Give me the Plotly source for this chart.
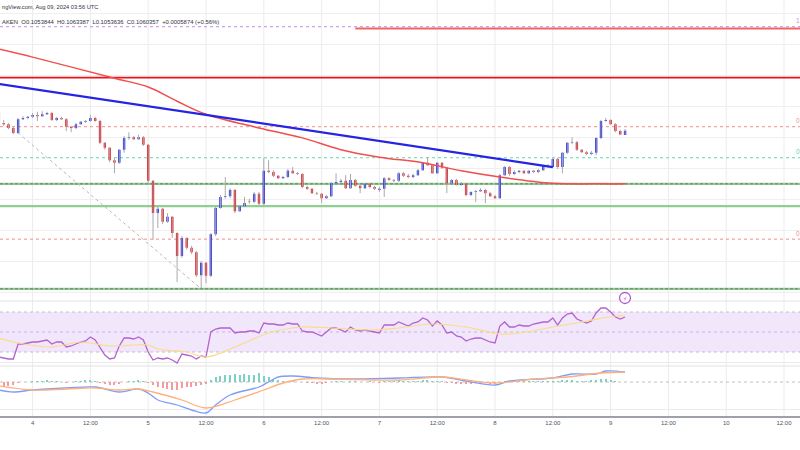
import pandas as pd
import plotly.graph_objects as go

# ---------------- DATA ----------------
first_candle = "2024-08-03 17:00"   # hourly candles, DOGEUSD (Kraken)

open_ = [0.1092, 0.1073, 0.1071, 0.1065, 0.1057, 0.1079, 0.1081, 0.1083, 0.1086, 0.1084,
         0.1087, 0.1089, 0.1078, 0.1081, 0.1079, 0.1067, 0.1065, 0.1071, 0.1075, 0.1076,
         0.1081, 0.1076, 0.1041, 0.1033, 0.1013, 0.1009, 0.1030, 0.1049, 0.1050, 0.1047,
         0.1050, 0.1038, 0.0980, 0.0928, 0.0935, 0.0914, 0.0922, 0.0896, 0.0859, 0.0888,
         0.0872, 0.0865, 0.0828, 0.0848, 0.0827, 0.0894, 0.0936, 0.0954, 0.0955, 0.0965,
         0.0931, 0.0939, 0.0947, 0.0946, 0.0959, 0.0943, 0.0996, 0.0994, 0.0988, 0.0984,
         0.0986, 0.0996, 0.0992, 0.0991, 0.0970, 0.0967, 0.0960, 0.0959, 0.0952, 0.0955,
         0.0976, 0.0978, 0.0980, 0.0968, 0.0981, 0.0972, 0.0968, 0.0975, 0.0970, 0.0965,
         0.0967, 0.0984, 0.0981, 0.0980, 0.0992, 0.0988, 0.0986, 0.0989, 0.0997, 0.1009,
         0.1005, 0.0992, 0.1009, 0.1001, 0.0976, 0.0981, 0.0973, 0.0975, 0.0957, 0.0962,
         0.0963, 0.0965, 0.0960, 0.0955, 0.0952, 0.0989, 0.1002, 0.0991, 0.0994, 0.0996,
         0.0992, 0.0996, 0.0994, 0.0997, 0.1004, 0.1002, 0.1015, 0.1002, 0.1025, 0.1041,
         0.1042, 0.1030, 0.1026, 0.1023, 0.1025, 0.1049, 0.1076, 0.1078, 0.1071, 0.1060,
         0.1053844]
high = [0.1097, 0.1078, 0.1073, 0.1067, 0.1081, 0.1084, 0.1084, 0.1089, 0.1091, 0.1092,
        0.1091, 0.1091, 0.1083, 0.1083, 0.1081, 0.1068, 0.1073, 0.1076, 0.1078, 0.1086,
        0.1083, 0.1078, 0.1042, 0.1034, 0.1017, 0.1031, 0.1052, 0.1058, 0.1052, 0.1054,
        0.1052, 0.1039, 0.0981, 0.0938, 0.0936, 0.0928, 0.0923, 0.0897, 0.0891, 0.0889,
        0.0875, 0.0867, 0.0851, 0.0849, 0.0896, 0.0938, 0.0957, 0.0986, 0.0968, 0.0967,
        0.0941, 0.0954, 0.0951, 0.0962, 0.0962, 0.1017, 0.1013, 0.0997, 0.0989, 0.0988,
        0.0999, 0.1002, 0.0994, 0.0992, 0.0972, 0.0968, 0.0962, 0.0960, 0.0957, 0.0978,
        0.0992, 0.0983, 0.0989, 0.0991, 0.0983, 0.0973, 0.0976, 0.0976, 0.0972, 0.0970,
        0.0986, 0.0986, 0.0983, 0.0994, 0.0994, 0.0991, 0.0991, 0.0999, 0.1010, 0.1018,
        0.1007, 0.1010, 0.1010, 0.1002, 0.0983, 0.0983, 0.0978, 0.0976, 0.0963, 0.0965,
        0.0968, 0.0967, 0.0962, 0.0957, 0.0991, 0.1004, 0.1004, 0.0997, 0.0997, 0.0997,
        0.0997, 0.0997, 0.0999, 0.1005, 0.1007, 0.1017, 0.1017, 0.1026, 0.1042, 0.1050,
        0.1044, 0.1031, 0.1028, 0.1028, 0.1050, 0.1078, 0.1081, 0.1079, 0.1073, 0.1062,
        0.1063387]
low = [0.1070, 0.1068, 0.1063, 0.1055, 0.1055, 0.1078, 0.1079, 0.1081, 0.1076, 0.1083,
       0.1086, 0.1076, 0.1076, 0.1078, 0.1060, 0.1058, 0.1063, 0.1070, 0.1073, 0.1075,
       0.1075, 0.1039, 0.1030, 0.1010, 0.0992, 0.1007, 0.1025, 0.1046, 0.1046, 0.1046,
       0.1036, 0.0976, 0.0885, 0.0904, 0.0910, 0.0912, 0.0888, 0.0817, 0.0856, 0.0869,
       0.0862, 0.0825, 0.0807, 0.0815, 0.0825, 0.0891, 0.0935, 0.0951, 0.0952, 0.0928,
       0.0930, 0.0938, 0.0943, 0.0944, 0.0941, 0.0941, 0.0992, 0.0986, 0.0983, 0.0983,
       0.0984, 0.0991, 0.0989, 0.0968, 0.0965, 0.0959, 0.0957, 0.0944, 0.0951, 0.0954,
       0.0975, 0.0976, 0.0967, 0.0967, 0.0970, 0.0960, 0.0967, 0.0968, 0.0965, 0.0962,
       0.0954, 0.0980, 0.0978, 0.0978, 0.0986, 0.0984, 0.0984, 0.0988, 0.0996, 0.1004,
       0.0991, 0.0991, 0.0999, 0.0960, 0.0975, 0.0972, 0.0972, 0.0955, 0.0955, 0.0946,
       0.0962, 0.0944, 0.0954, 0.0951, 0.0951, 0.0988, 0.0988, 0.0989, 0.0992, 0.0991,
       0.0991, 0.0992, 0.0992, 0.0996, 0.1001, 0.1001, 0.0999, 0.0992, 0.1023, 0.1039,
       0.1028, 0.1025, 0.1021, 0.1021, 0.1021, 0.1047, 0.1075, 0.1070, 0.1058, 0.1054,
       0.1053636]
close = [0.1073, 0.1071, 0.1065, 0.1057, 0.1079, 0.1081, 0.1083, 0.1086, 0.1084, 0.1087,
         0.1089, 0.1078, 0.1081, 0.1079, 0.1067, 0.1065, 0.1071, 0.1075, 0.1076, 0.1081,
         0.1076, 0.1041, 0.1033, 0.1013, 0.1009, 0.1030, 0.1049, 0.1050, 0.1047, 0.1050,
         0.1038, 0.0980, 0.0928, 0.0935, 0.0914, 0.0922, 0.0896, 0.0859, 0.0888, 0.0872,
         0.0865, 0.0828, 0.0848, 0.0827, 0.0894, 0.0936, 0.0954, 0.0955, 0.0965, 0.0931,
         0.0939, 0.0944, 0.0946, 0.0959, 0.0943, 0.0996, 0.0994, 0.0988, 0.0984, 0.0986,
         0.0996, 0.0992, 0.0991, 0.0970, 0.0967, 0.0960, 0.0959, 0.0952, 0.0955, 0.0976,
         0.0978, 0.0980, 0.0968, 0.0981, 0.0972, 0.0968, 0.0975, 0.0970, 0.0967, 0.0967,
         0.0984, 0.0981, 0.0980, 0.0992, 0.0988, 0.0986, 0.0989, 0.0997, 0.1009, 0.1005,
         0.0992, 0.1009, 0.1001, 0.0976, 0.0981, 0.0973, 0.0975, 0.0957, 0.0962, 0.0963,
         0.0965, 0.0960, 0.0955, 0.0952, 0.0989, 0.1002, 0.0991, 0.0994, 0.0996, 0.0992,
         0.0996, 0.0994, 0.0997, 0.1004, 0.1002, 0.1015, 0.1002, 0.1025, 0.1041, 0.1042,
         0.1030, 0.1026, 0.1023, 0.1025, 0.1049, 0.1076, 0.1078, 0.1071, 0.1060, 0.10545,
         0.1060357]

# 100-period moving average (red curve)
ma_times = ["2024-08-03 17:00", "2024-08-04 00:00", "2024-08-04 17:00", "2024-08-05 00:00",
            "2024-08-05 06:00", "2024-08-05 12:00", "2024-08-05 23:00", "2024-08-06 08:00",
            "2024-08-06 16:00", "2024-08-07 00:00", "2024-08-07 09:00", "2024-08-07 17:00",
            "2024-08-08 01:00", "2024-08-08 12:00", "2024-08-08 22:00", "2024-08-09 03:00"]
ma_vals = [0.1192, 0.1179, 0.1145, 0.1131, 0.1108, 0.1087, 0.1065, 0.1049,
           0.1030, 0.1018, 0.1009, 0.0996, 0.0986, 0.0976, 0.0975, 0.0975]

# drawn trend lines
trend_times = ["2024-08-03 17:00", "2024-08-08 12:00"]
trend_vals = [0.1136, 0.1002]
diag_times = ["2024-08-03 21:00", "2024-08-05 11:00"]
diag_vals = [0.1057, 0.0806]
top_res_start = "2024-08-06 19:00"
top_res_val = 0.1225

# horizontal levels (labels only partly visible at the right edge)
fib_levels = [0.1228, 0.1067, 0.1017, 0.0886]
fib_labels = ["1", "0", "0", "0"]
fib_colors = ["#c58be6", "#f28b8b", "#5fd6b6", "#f28b8b"]
red_res = 0.1146
green_lvls = [0.0975, 0.0939, 0.0806]
green_dashed = [True, False, True]

# RSI(14) hourly
rsi = [25, 24, 23, 23, 38, 38, 39, 40, 40, 41,
       42, 38, 40, 40, 35, 36, 38, 40, 41, 45,
       42, 34, 27, 23, 24, 36, 44, 44, 43, 45,
       42, 30, 22, 24, 23, 24, 22, 19, 28, 27,
       26, 23, 26, 25, 50, 53, 54, 54, 54, 49,
       50, 50, 51, 51, 49, 59, 58, 58, 57, 57,
       59, 58, 58, 51, 50, 50, 48, 46, 50, 54,
       54, 52, 50, 55, 52, 51, 52, 51, 50, 49,
       57, 57, 57, 60, 58, 56, 59, 60, 64, 62,
       56, 61, 57, 49, 50, 46, 45, 41, 43, 44,
       44, 42, 40, 39, 56, 60, 55, 55, 57, 56,
       56, 58, 59, 60, 60, 64, 57, 64, 68, 69,
       63, 61, 59, 61, 69, 74, 74, 70, 65, 63,
       65]
rsi_ma_times = ["2024-08-03 17:00", "2024-08-03 21:00", "2024-08-04 04:00", "2024-08-04 10:00",
                "2024-08-04 16:00", "2024-08-04 21:00", "2024-08-05 00:00", "2024-08-05 02:00",
                "2024-08-05 08:00", "2024-08-05 12:00", "2024-08-05 18:00", "2024-08-06 01:00",
                "2024-08-06 08:00", "2024-08-06 14:00", "2024-08-06 22:00", "2024-08-07 04:00",
                "2024-08-07 11:00", "2024-08-07 18:00", "2024-08-08 01:00", "2024-08-08 05:00",
                "2024-08-08 12:00", "2024-08-08 18:00", "2024-08-09 01:00", "2024-08-09 03:00"]
rsi_ma = [44, 39, 35, 40, 36, 37, 37, 33, 30, 25, 35, 49,
          55, 54, 52, 54, 58, 55, 48, 49, 55, 60, 66, 66]

# MACD
macd_times = ["2024-08-03 17:00", "2024-08-03 20:00", "2024-08-04 00:00", "2024-08-04 07:00",
              "2024-08-04 13:00", "2024-08-04 18:00", "2024-08-04 22:00", "2024-08-05 00:00",
              "2024-08-05 02:00", "2024-08-05 06:00", "2024-08-05 09:00", "2024-08-05 12:00",
              "2024-08-05 14:00", "2024-08-05 17:00", "2024-08-05 23:00", "2024-08-06 01:00",
              "2024-08-06 03:00", "2024-08-06 06:00", "2024-08-06 11:00", "2024-08-06 18:00",
              "2024-08-07 04:00", "2024-08-07 13:00", "2024-08-07 18:00", "2024-08-08 00:00",
              "2024-08-08 03:00", "2024-08-08 12:00", "2024-08-08 16:00", "2024-08-08 21:00",
              "2024-08-08 23:00", "2024-08-09 03:00"]
macd = [-0.0008, -0.0010, -0.0008, -0.0006, -0.0005, -0.0010, -0.0007, -0.0011,
        -0.0018, -0.0023, -0.0028, -0.0031, -0.0023, -0.0013, -0.0005, 0.0000,
        0.0005, 0.0006, 0.0004, 0.0003, 0.0004, 0.0005, 0.0001, -0.0003,
        0.0001, 0.0004, 0.0008, 0.0008, 0.0011, 0.0010]
signal_times = ["2024-08-03 17:00", "2024-08-04 00:00", "2024-08-04 07:00", "2024-08-04 13:00",
                "2024-08-04 18:00", "2024-08-04 22:00", "2024-08-05 01:00", "2024-08-05 07:00",
                "2024-08-05 12:00", "2024-08-05 18:00", "2024-08-06 00:00", "2024-08-06 04:00",
                "2024-08-06 08:00", "2024-08-06 14:00", "2024-08-07 04:00", "2024-08-07 13:00",
                "2024-08-07 18:00", "2024-08-08 00:00", "2024-08-08 08:00", "2024-08-08 15:00",
                "2024-08-08 22:00", "2024-08-09 03:00"]
signal = [-0.0004, -0.0008, -0.0007, -0.0006, -0.0008, -0.0007, -0.0010, -0.0018,
          -0.0026, -0.0018, -0.0008, -0.0001, 0.0003, 0.0003, 0.0002, 0.0005,
          0.0002, -0.0001, 0.0003, 0.0005, 0.0009, 0.0010]
hist = [-0.0004, -0.0005, -0.0004, -0.0003, -0.0001, 0.0, 0.0, 0.0001, 0.0001, 0.0001,
        0.0002, 0.0001, 0.0001, 0.0, -0.0001, 0.0, 0.0001, 0.0001, 0.0002, 0.0002,
        0.0001, -0.0001, -0.0002, -0.0003, -0.0003, -0.0002, 0.0, 0.0001, 0.0001, 0.0002,
        0.0001, -0.0001, -0.0003, -0.0005, -0.0006, -0.0007, -0.0008, -0.0008, -0.0006, -0.0005,
        -0.0005, -0.0004, -0.0003, -0.0002, 0.0002, 0.0005, 0.0006, 0.0007, 0.0007, 0.0008,
        0.0007, 0.0008, 0.0007, 0.0007, 0.0009, 0.0006, 0.0005, 0.0003, 0.0002, 0.0001,
        0.0001, 0.0001, 0.0, 0.0, -0.0001, -0.0001, -0.0002, -0.0002, -0.0001, 0.0,
        0.0001, 0.0001, 0.0, 0.0001, 0.0001, 0.0, 0.0, 0.0001, 0.0, -0.0001,
        0.0001, 0.0001, 0.0001, 0.0002, 0.0001, 0.0001, 0.0001, 0.0001, 0.0002, 0.0002,
        0.0001, 0.0001, 0.0001, -0.0001, -0.0001, -0.0002, -0.0002, -0.0002, -0.0002, -0.0001,
        -0.0001, -0.0001, -0.0002, -0.0002, 0.0, 0.0001, 0.0001, 0.0001, 0.0001, 0.0001,
        0.0001, 0.0001, 0.0001, 0.0001, 0.0001, 0.0001, 0.0001, 0.0002, 0.0002, 0.0002,
        0.0001, 0.0001, 0.0001, 0.0002, 0.0002, 0.0003, 0.0003, 0.0002, 0.0001, 0.0,
        0.0]

# time axis
tick_vals = ["2024-08-04 00:00", "2024-08-04 12:00", "2024-08-05 00:00", "2024-08-05 12:00",
             "2024-08-06 00:00", "2024-08-06 12:00", "2024-08-07 00:00", "2024-08-07 12:00",
             "2024-08-08 00:00", "2024-08-08 12:00", "2024-08-09 00:00", "2024-08-09 12:00",
             "2024-08-10 00:00", "2024-08-10 12:00"]
tick_text = ["4", "12:00", "5", "12:00", "6", "12:00", "7", "12:00",
             "8", "12:00", "9", "12:00", "10", "12:00"]
x_range = ["2024-08-03 17:14", "2024-08-10 15:19"]

header1 = "ngView.com, Aug 09, 2024 03:56 UTC"
header2 = "AKEN  O0.1053844  H0.1063387  L0.1053636  C0.1060357  +0.0005874 (+0.56%)"

# ---------------- FIGURE ----------------
times = pd.date_range(first_candle, periods=len(open_), freq="h")
PH = 416.0  # plot area height in px (450 - bottom margin)


def py(pix):
    """pixel row -> paper y"""
    return (PH - pix) / PH


FONT = "Liberation Sans, Arial, sans-serif"
BLUE = "#1f22ea"
RED = "#e8141b"

fig = go.Figure()

# wicks (grey)
wx, wy = [], []
for t, lo, hi in zip(times, low, high):
    wx += [t, t, None]
    wy += [lo, hi, None]
fig.add_trace(go.Scatter(x=wx, y=wy, mode="lines", line=dict(color="#a9a9a9", width=1),
                         hoverinfo="skip", showlegend=False, yaxis="y"))

fig.add_trace(go.Candlestick(
    x=times, open=open_, high=high, low=low, close=close, yaxis="y",
    increasing=dict(fillcolor=BLUE, line=dict(color=BLUE, width=0)),
    decreasing=dict(fillcolor=RED, line=dict(color=RED, width=0)),
    showlegend=False))

fig.add_trace(go.Scatter(x=ma_times, y=ma_vals, mode="lines", yaxis="y",
                         line=dict(color="#f24e4e", width=1.5, shape="spline"), showlegend=False))
fig.add_trace(go.Scatter(x=trend_times, y=trend_vals, mode="lines", yaxis="y",
                         line=dict(color="#2424e2", width=2.2), showlegend=False))
fig.add_trace(go.Scatter(x=diag_times, y=diag_vals, mode="lines", yaxis="y",
                         line=dict(color="#b8b8b8", width=1, dash="3px,3px"), showlegend=False))

# RSI
fig.add_trace(go.Scatter(x=times, y=rsi, mode="lines", yaxis="y2",
                         line=dict(color="#b262d0", width=1.3), showlegend=False))
fig.add_trace(go.Scatter(x=rsi_ma_times, y=rsi_ma, mode="lines", yaxis="y2",
                         line=dict(color="#f8dc8a", width=1.2, shape="spline"), showlegend=False))

# MACD
hist_colors = ["#7dd0c6" if v >= 0 else "#f59aa0" for v in hist]
fig.add_trace(go.Bar(x=times, y=hist, marker=dict(color=hist_colors, line=dict(width=0)),
                     width=0.25 * 3600000, yaxis="y3", showlegend=False))
fig.add_trace(go.Scatter(x=macd_times, y=macd, mode="lines", yaxis="y3",
                         line=dict(color="#7f9cfa", width=1.3, shape="spline"), showlegend=False))
fig.add_trace(go.Scatter(x=signal_times, y=signal, mode="lines", yaxis="y3",
                         line=dict(color="#ffb07c", width=1.3, shape="spline"), showlegend=False))

shapes = []
# vertical grid
for tv in tick_vals:
    shapes.append(dict(type="line", xref="x", yref="paper", x0=tv, x1=tv, y0=0, y1=1,
                       line=dict(color="#ececec", width=1), layer="below"))
# pane separators
for pix in (301, 366):
    shapes.append(dict(type="line", xref="paper", yref="paper", x0=0, x1=1,
                       y0=py(pix), y1=py(pix), line=dict(color="#e2e2e2", width=1), layer="below"))
# levels in main pane
for lv, col in zip(fib_levels, fib_colors):
    shapes.append(dict(type="line", xref="paper", yref="y", x0=0, x1=1, y0=lv, y1=lv,
                       line=dict(color=col, width=1, dash="3px,3px"), layer="below"))
shapes.append(dict(type="line", xref="paper", yref="y", x0=0, x1=1, y0=red_res, y1=red_res,
                   line=dict(color="#e8141b", width=1.6), layer="below"))
shapes.append(dict(type="line", xref="x", yref="y", x0=top_res_start, x1=x_range[1],
                   y0=top_res_val, y1=top_res_val, line=dict(color="#f06464", width=2), layer="below"))
for lv, dsh in zip(green_lvls, green_dashed):
    shapes.append(dict(type="line", xref="paper", yref="y", x0=0, x1=1, y0=lv, y1=lv,
                       line=dict(color="#8fcf8f", width=2.2), layer="below"))
    if dsh:
        shapes.append(dict(type="line", xref="paper", yref="y", x0=0, x1=1, y0=lv, y1=lv,
                           line=dict(color="#6f7a6f", width=1, dash="3px,2px"), layer="below"))
# RSI band and levels
shapes.append(dict(type="rect", xref="paper", yref="y2", x0=0, x1=1, y0=30, y1=70,
                   fillcolor="#f2e6fc", line=dict(width=0), layer="below"))
for lv in (70, 50, 30):
    shapes.append(dict(type="line", xref="paper", yref="y2", x0=0, x1=1, y0=lv, y1=lv,
                       line=dict(color="#b9b0c4", width=0.8, dash="3px,3px"), layer="below"))
# MACD zero line
shapes.append(dict(type="line", xref="paper", yref="y3", x0=0, x1=1, y0=0, y1=0,
                   line=dict(color="#b0b0b0", width=0.8, dash="3px,3px"), layer="below"))
# event icon
shapes.append(dict(type="circle", xref="paper", yref="paper",
                   x0=(625 - 5.5) / 800, x1=(625 + 5.5) / 800, y0=py(298 + 5.5), y1=py(298 - 5.5),
                   line=dict(color="#b35ad8", width=1.3), fillcolor="white", layer="above"))

annotations = [
    dict(xref="paper", yref="paper", x=0, y=py(7), xanchor="left", yanchor="middle",
         text=header1, showarrow=False, font=dict(family=FONT, size=5.7, color="#2f3241")),
    dict(xref="paper", yref="paper", x=0, y=py(22), xanchor="left", yanchor="middle",
         text=header2, showarrow=False, font=dict(family=FONT, size=5.9, color="#2f3241")),
    dict(xref="paper", yref="paper", x=625 / 800, y=py(298), xanchor="center", yanchor="middle",
         text="⚡", showarrow=False, font=dict(family="DejaVu Sans", size=6, color="#b35ad8")),
]
for lv, lab, col in zip(fib_levels, fib_labels, fib_colors):
    annotations.append(dict(xref="paper", yref="y", x=794 / 800, y=lv, yshift=6,
                            xanchor="left", yanchor="middle", text=lab, showarrow=False,
                            font=dict(family=FONT, size=6.5, color=col)))

fig.update_layout(
    width=800, height=450,
    margin=dict(l=0, r=0, t=0, b=34),
    paper_bgcolor="white", plot_bgcolor="white",
    showlegend=False, hovermode=False, bargap=0,
    xaxis=dict(type="date", range=x_range, domain=[0, 1], anchor="y3",
               tickvals=tick_vals, ticktext=tick_text, ticks="", showgrid=False,
               showline=True, linecolor="#9ea1aa", linewidth=1.5, zeroline=False,
               tickfont=dict(family=FONT, size=6, color="#50535e"),
               rangeslider=dict(visible=False), fixedrange=True),
    yaxis=dict(domain=[py(300), 1], range=[0.0788, 0.1271], anchor="x",
               tickvals=[0.080, 0.085, 0.090, 0.095, 0.100, 0.105, 0.110, 0.115, 0.120, 0.125],
               showticklabels=False, gridcolor="#efefef", gridwidth=1, zeroline=False, ticks=""),
    yaxis2=dict(domain=[py(366), py(301)], range=[16, 81], anchor="x",
                tickvals=[20, 40, 60], showticklabels=False, gridcolor="#ebebeb",
                zeroline=False, ticks=""),
    yaxis3=dict(domain=[0, py(367)], range=[-0.0034, 0.0015], anchor="x",
                tickvals=[-0.0027], showticklabels=False, gridcolor="#ebebeb",
                zeroline=False, ticks=""),
    shapes=shapes, annotations=annotations,
)

fig.write_html("out.html", config={"displayModeBar": False},
               post_script="document.body.style.margin='0';document.body.style.padding='0';"
                           "document.body.style.overflow='hidden';")
